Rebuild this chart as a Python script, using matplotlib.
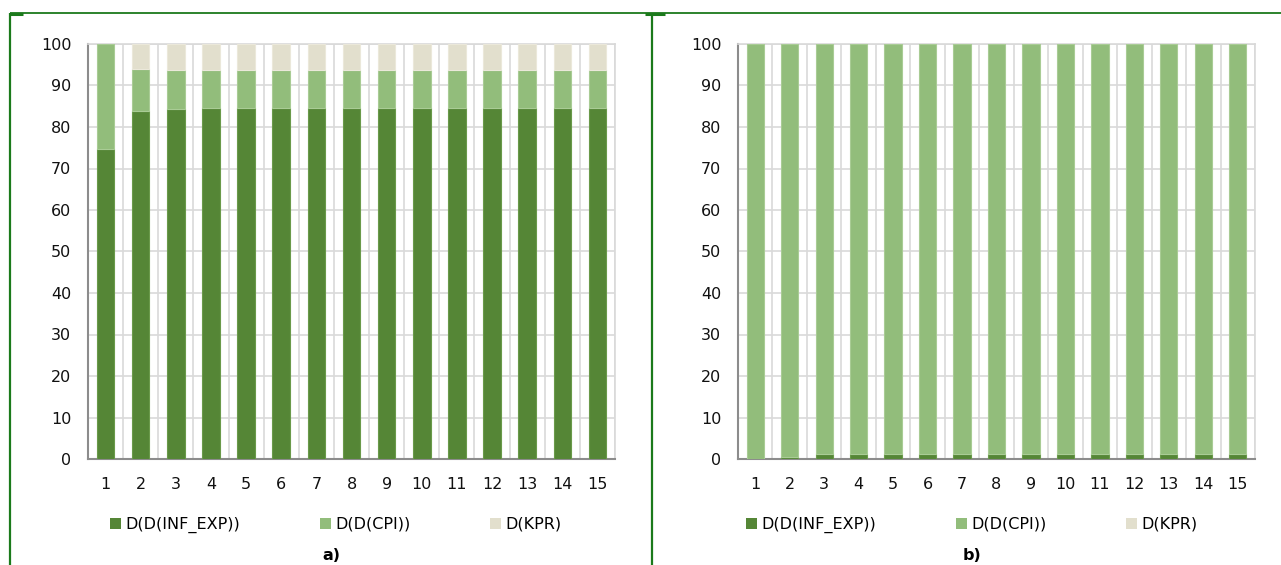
import numpy as np
import matplotlib
matplotlib.use("Agg")
import matplotlib.pyplot as plt
from matplotlib.lines import Line2D
from matplotlib.patches import Patch

plt.rcParams['font.family'] = ['DejaVu Sans']

periods = list(range(1, 16))
series_names = ["D(D(INF_EXP))", "D(D(CPI))", "D(KPR)"]

# variance decomposition, panel a)
a_inf_exp = [74.6, 83.9, 84.4, 84.6, 84.6, 84.6, 84.6, 84.6, 84.6, 84.6, 84.6, 84.6, 84.6, 84.6, 84.6]
a_cpi = [25.4, 10.1, 9.3, 9.1, 9.1, 9.1, 9.1, 9.1, 9.1, 9.1, 9.1, 9.1, 9.1, 9.1, 9.1]
a_kpr = [0.0, 6.0, 6.3, 6.3, 6.3, 6.3, 6.3, 6.3, 6.3, 6.3, 6.3, 6.3, 6.3, 6.3, 6.3]

# variance decomposition, panel b)
b_inf_exp = [0.0, 0.6, 1.1, 1.1, 1.1, 1.1, 1.1, 1.1, 1.1, 1.1, 1.1, 1.1, 1.1, 1.1, 1.1]
b_cpi = [100.0, 99.4, 98.9, 98.9, 98.9, 98.9, 98.9, 98.9, 98.9, 98.9, 98.9, 98.9, 98.9, 98.9, 98.9]
b_kpr = [0.0] * 15

colors = ["#558636", "#92bd7b", "#e2dfcd"]
edge_colors = ["#6a9a4a", "#a9cc95", "#ebe8da"]
frame_green = "#1b7a1b"

W, H = 1281, 565
fig = plt.figure(figsize=(W / 100, H / 100), dpi=100)


def draw_panel(rect, parts, letter, letter_x, legend_x):
    ax = fig.add_axes(rect)
    x = np.array(periods)
    bottom = np.zeros(len(x))
    for vals, c, ec in zip(parts, colors, edge_colors):
        vals = np.array(vals)
        nz = vals > 0
        ax.bar(x[nz], vals[nz], width=0.5, bottom=bottom[nz], color=c, edgecolor=ec,
               linewidth=0.8, zorder=3)
        bottom += vals
    ax.set_xlim(0.5, 15.5)
    ax.set_ylim(0, 100)
    ax.set_yticks(range(0, 101, 10))
    ax.set_xticks(periods)
    ax.set_xticks(np.arange(0.5, 16, 1), minor=True)
    ax.grid(axis='y', color="#d9d9d9", linewidth=1.2, zorder=0)
    ax.grid(axis='x', which='minor', color="#d9d9d9", linewidth=1.2, zorder=0)
    ax.tick_params(which='both', length=0, labelsize=11.5, colors="#111111")
    ax.tick_params(axis='y', pad=12)
    ax.tick_params(axis='x', pad=13)
    for s in ['top', 'right']:
        ax.spines[s].set_color("#d9d9d9")
        ax.spines[s].set_linewidth(1.2)
    for s in ['left', 'bottom']:
        ax.spines[s].set_color("#8c8c8c")
        ax.spines[s].set_linewidth(1.5)
    handles = [Patch(facecolor=c, edgecolor='none') for c in colors]
    fig.legend(handles, series_names, loc='center left',
               bbox_to_anchor=(legend_x / W, 1 - 525 / H), ncol=3,
               frameon=False, fontsize=11.5, handlelength=0.7, handleheight=0.7,
               handletextpad=0.25, columnspacing=5.0, borderpad=0, borderaxespad=0)
    fig.text(letter_x / W, 1 - 555 / H, letter, ha='center', va='center',
             fontsize=11.5, fontweight='bold')
    return ax


draw_panel([88 / W, 1 - 459 / H, 527 / W, 415 / H], [a_inf_exp, a_cpi, a_kpr], "a)", 331, 110)
draw_panel([738 / W, 1 - 459 / H, 517 / W, 415 / H], [b_inf_exp, b_cpi, b_kpr], "b)", 972, 746)

# outer green frame
def fline(x0, y0, x1, y1, lw):
    fig.add_artist(Line2D([x0 / W, x1 / W], [1 - y0 / H, 1 - y1 / H],
                          color=frame_green, linewidth=lw, solid_capstyle='butt'))

fline(10, 13, 1281, 13, 1.3)
fline(10, 13, 10, 565, 1.6)
fline(652, 13, 652, 565, 1.6)
fline(10, 14, 23, 14, 2.2)
fline(645, 14, 665, 14, 2.2)

fig.savefig("out.png", dpi=100)
